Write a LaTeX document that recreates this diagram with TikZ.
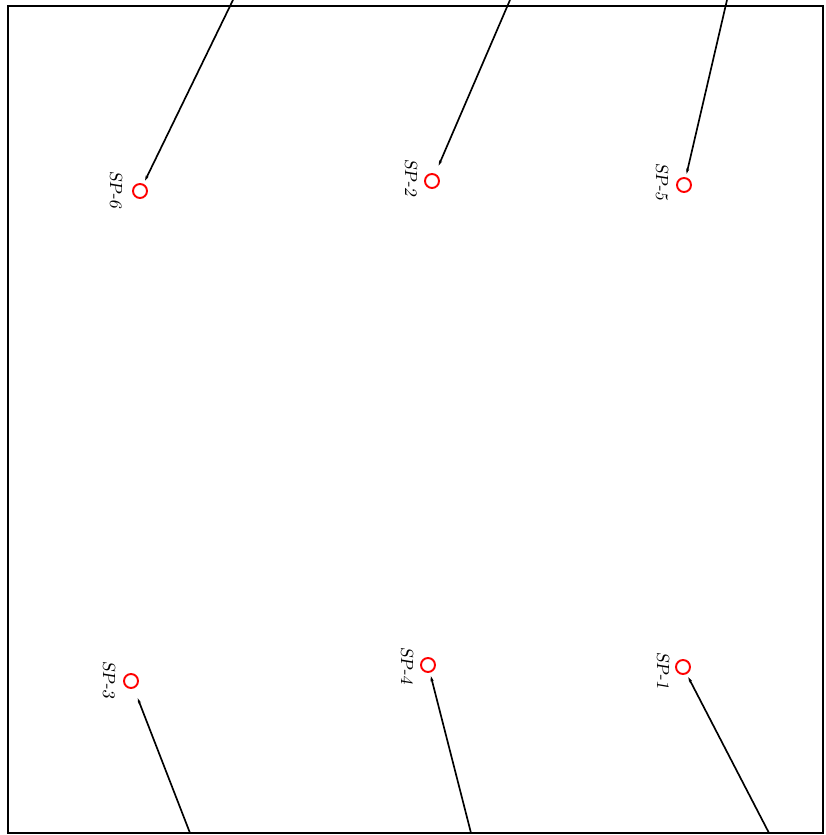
\documentclass[tikz,border=0pt]{standalone}
\usepackage{tikz}
\usetikzlibrary{arrows.meta}
\tikzset{
  sp-point/.style={circle, draw=red, line width=1.1pt, minimum size=0.28cm, inner sep=0pt},
  sp-label/.style={font=\slshape, rotate=-90, inner sep=0pt},
  sp-lead/.style={-{Stealth[length=3pt,width=1.8pt]}, line width=0.95pt, shorten >=2pt}
}
\begin{document}
\begin{tikzpicture}[x=0.02cm, y=0.02cm]
  \useasboundingbox (0,0) rectangle (825,835);
  % frame
  \draw[line width=1pt] (8,2) rectangle (823,829);

  % sample points, upper row
  \node[sp-point] (sp6) at (140,644) {};
  \node[sp-label] at (116,645) {SP-6};
  \node[sp-point] (sp2) at (432,654) {};
  \node[sp-label] at (411,657) {SP-2};
  \node[sp-point] (sp5) at (684,650) {};
  \node[sp-label] at (662,653) {SP-5};

  % sample points, lower row
  \node[sp-point] (sp3) at (131,154) {};
  \node[sp-label] at (109,155) {SP-3};
  \node[sp-point] (sp4) at (428,170) {};
  \node[sp-label] at (407,169) {SP-4};
  \node[sp-point] (sp1) at (683,168) {};
  \node[sp-label] at (663,164) {SP-1};

  % leader ends
  \coordinate (e6) at (233,835);
  \coordinate (e2) at (510,835);
  \coordinate (e5) at (727,835);
  \coordinate (e3) at (190,2);
  \coordinate (e4) at (471,2);
  \coordinate (e1) at (769,2);

  % leaders
  \draw[sp-lead] (e6) -- (sp6);
  \draw[sp-lead, shorten >=5pt] (e2) -- (sp2);
  \draw[sp-lead] (e5) -- (sp5);
  \draw[sp-lead, shorten >=6pt] (e3) -- (sp3);
  \draw[sp-lead] (e4) -- (sp4);
  \draw[sp-lead] (e1) -- (sp1);
\end{tikzpicture}
\end{document}
